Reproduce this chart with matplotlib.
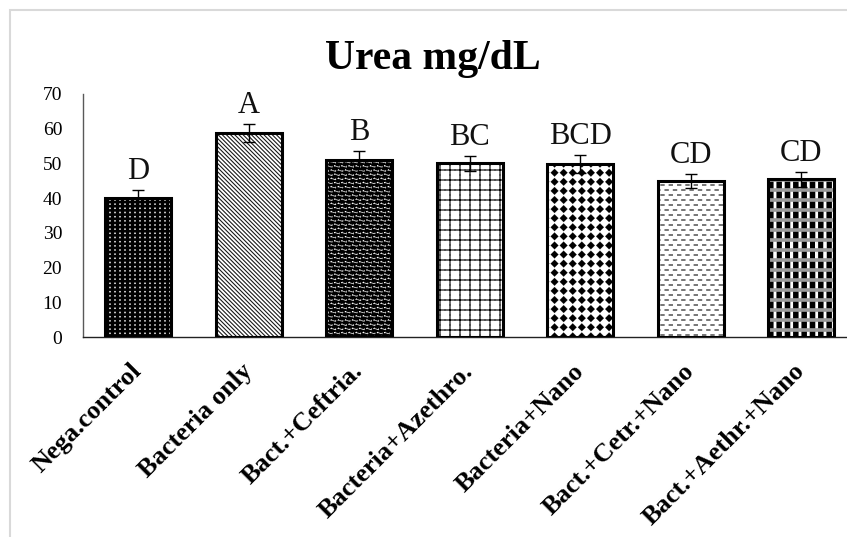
import warnings
import numpy as np
import matplotlib
matplotlib.use("Agg")
import matplotlib.pyplot as plt
from matplotlib import hatch as mhatch
from matplotlib.path import Path
from matplotlib.patches import Rectangle

warnings.filterwarnings("ignore")

# Serum urea per treatment group (mean, SE) with significance letters
groups = ["Nega.control", "Bacteria only", "Bact.+Ceftria.", "Bacteria+Azethro.",
          "Bacteria+Nano", "Bact.+Cetr.+Nano", "Bact.+Aethr.+Nano"]
urea = [40.1, 58.8, 51.0, 50.0, 49.8, 45.0, 45.4]
urea_err = [2.2, 2.6, 2.6, 2.2, 2.6, 2.0, 2.1]
letters = ["D", "A", "B", "BC", "BCD", "CD", "CD"]

plt.rcParams["font.family"] = ["Liberation Serif", "DejaVu Serif"]
plt.rcParams["hatch.linewidth"] = 0.1


# ---- Excel-like fill patterns built as custom hatches (cell = 100 px) ----
def ellipse(rx, ry, cx=0.0, cy=0.0, n=20, reverse=False):
    t = np.linspace(0, 2 * np.pi, n, endpoint=False)
    if reverse:
        t = t[::-1]
    return np.column_stack([cx + rx * np.cos(t), cy + ry * np.sin(t)])


def box(hw, hh):
    return np.array([[-hw, -hh], [hw, -hh], [hw, hh], [-hw, hh]])


class TileHatch(mhatch.HatchPatternBase):
    char = "?"
    cols = rows = 1
    stagger = False
    shapes = []

    def __init__(self, hatch, density):
        active = hatch is not None and self.char in hatch
        per_tile = sum(len(s) + 1 for s in self.shapes)
        self.num_vertices = per_tile * (self.rows + 1) * (self.cols + 2) if active else 0

    def set_vertices_and_codes(self, vertices, codes):
        k = 0
        scale = np.array([1.0 / self.cols, 1.0 / self.rows])
        for r in range(self.rows + 1):
            shift = 0.5 if (self.stagger and r % 2) else 0.0
            for c in range(-1, self.cols + 1):
                origin = np.array([(c + shift) / self.cols, r / self.rows])
                for s in self.shapes:
                    n = len(s)
                    vertices[k:k + n] = s * scale + origin
                    vertices[k + n] = vertices[k]
                    codes[k] = Path.MOVETO
                    codes[k + 1:k + n] = Path.LINETO
                    codes[k + n] = Path.CLOSEPOLY
                    k += n + 1


class DiagonalHatch(mhatch.HatchPatternBase):
    char = "b"
    lines = 24
    half = 0.006

    def __init__(self, hatch, density):
        active = hatch is not None and self.char in hatch
        self.num_vertices = 5 * (2 * self.lines + 1) if active else 0

    def set_vertices_and_codes(self, vertices, codes):
        k = 0
        d = self.half
        for i in range(-self.lines, self.lines + 1):
            x0 = i / self.lines
            quad = [[x0 - d, 1], [x0 + d, 1], [x0 + 1 + d, 0], [x0 + 1 - d, 0], [x0 - d, 1]]
            vertices[k:k + 5] = quad
            codes[k:k + 5] = [Path.MOVETO, Path.LINETO, Path.LINETO, Path.LINETO, Path.CLOSEPOLY]
            k += 5


class DotHatch(TileHatch):
    char, cols, rows = "a", 20, 24
    shapes = [box(0.14, 0.16)]


class BallHatch(TileHatch):
    char, cols, rows, stagger = "c", 14, 24, True
    shapes = [np.vstack([ellipse(0.45, 0.78), ellipse(0.13, 0.22, -0.14, 0.22, n=8, reverse=True)])]


class GridHatch(TileHatch):
    char, cols, rows = "g", 10, 10
    shapes = [np.array([[-0.52, -0.05], [0.52, -0.05], [0.52, 0.05], [-0.52, 0.05]]),
              np.array([[-0.05, -0.52], [0.05, -0.52], [0.05, 0.52], [-0.05, 0.52]])]


class DiamondHatch(TileHatch):
    char, cols, rows = "d", 11, 11
    shapes = [np.array([[0, -0.43], [0.43, 0], [0, 0.43], [-0.43, 0]])]


class DashHatch(TileHatch):
    char, cols, rows, stagger = "e", 12, 20, True
    shapes = [box(0.25, 0.12)]


class SlitHatch(TileHatch):
    char, cols, rows = "v", 12, 1
    shapes = [box(0.16, 0.6)]


class BandHatch(TileHatch):
    char, cols, rows = "h", 1, 10
    shapes = [box(0.6, 0.18)]


mhatch._hatch_types.extend([DiagonalHatch, DotHatch, BallHatch, GridHatch,
                            DiamondHatch, DashHatch, SlitHatch, BandHatch])

# face colour, hatch, hatch colour for each bar (and optional overlay)
fills = [("black", "a", "white"), ("white", "b", "black"), ("white", "c", "black"),
         ("white", "g", "black"), ("white", "d", "black"), ("white", "e", "#333333"),
         ("black", "v", "white")]
overlays = {6: ("h", "#9a9a9a")}

fig = plt.figure(figsize=(8.47, 5.37), dpi=100)
ax = fig.add_axes([83 / 847, 200 / 537, 773.5 / 847, 243 / 537])

x = np.arange(len(groups))
bar_w = 0.6

layer = ax.bar(x, urea, bar_w, linewidth=0, zorder=2)
for patch, (face, pat, col) in zip(layer, fills):
    patch.set_facecolor(face)
    patch.set_edgecolor(col)
    patch.set_hatch(pat)

over = ax.bar(x, urea, bar_w, fill=False, linewidth=0, zorder=2.1)
for i, patch in enumerate(over):
    if i in overlays:
        pat, col = overlays[i]
        patch.set_edgecolor(col)
        patch.set_hatch(pat)
    else:
        patch.set_visible(False)

ax.bar(x, urea, bar_w, fill=False, edgecolor="black", linewidth=2.2, zorder=3)

ax.errorbar(x, urea, yerr=urea_err, fmt="none", ecolor="black",
            elinewidth=1.0, capsize=4.5, capthick=1.0, zorder=4)

for xi, v, e, lab in zip(x, urea, urea_err, letters):
    ax.text(xi, v + e + 3.1, lab, ha="center", va="baseline", fontsize=22, color="#111111")

ax.set_xlim(-0.5, 6.5)
ax.set_ylim(0, 70)
ax.set_yticks(range(0, 71, 10))
ax.tick_params(axis="y", length=0, pad=15, labelsize=14)
ax.tick_params(axis="x", length=0, pad=22)
ax.set_xticks(x)
ax.set_xticklabels(groups, rotation=45, ha="right", va="center", rotation_mode="anchor",
                   fontsize=19, fontweight="bold")

for side in ("top", "right"):
    ax.spines[side].set_visible(False)
ax.spines["left"].set_color("#595959")
ax.spines["left"].set_linewidth(1.0)
ax.spines["bottom"].set_color("#222222")
ax.spines["bottom"].set_linewidth(1.0)

fig.text(433 / 847, 1 - 59 / 537, "Urea mg/dL", ha="center", va="center",
         fontsize=30, fontweight="bold")

# light chart-area border
fig.patches.append(Rectangle((10 / 847, -0.1), 1.0, 1.1 - 10 / 537, transform=fig.transFigure,
                             fill=False, edgecolor="#d9d9d9", linewidth=1.5))

fig.savefig("out.png", dpi=100)
